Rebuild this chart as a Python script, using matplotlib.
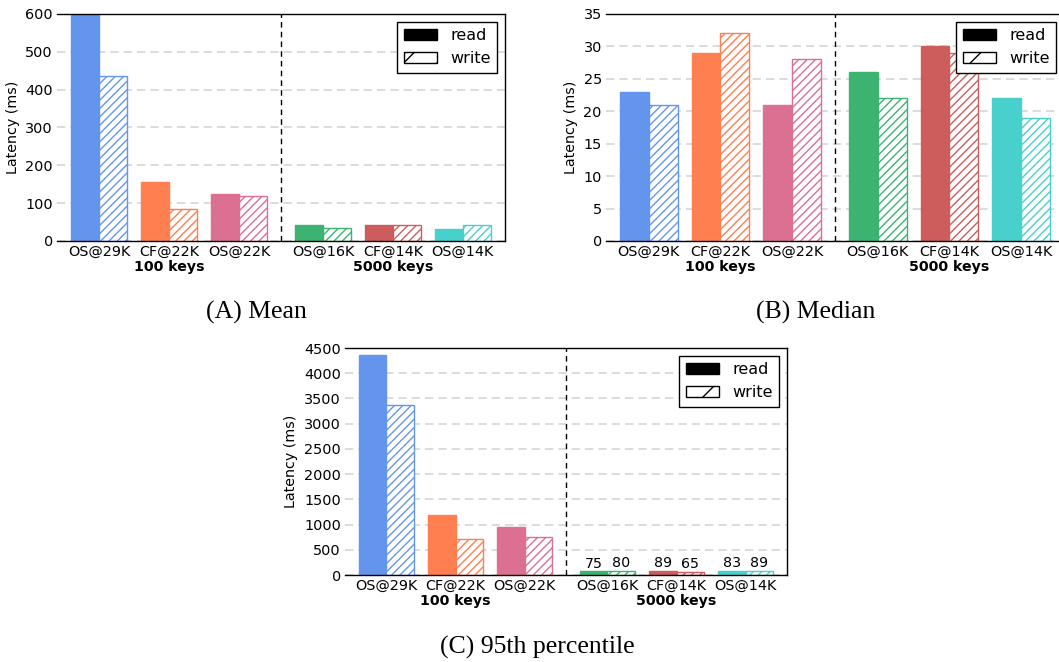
import matplotlib
matplotlib.use("Agg")
import matplotlib.pyplot as plt
from matplotlib.patches import Patch

CONFIGS = ["OS@29K", "CF@22K", "OS@22K", "OS@16K", "CF@14K", "OS@14K"]
GROUPS = ["100 keys", "5000 keys"]
COLORS = ["#6495ED", "#FF7F50", "#DB7093", "#3CB371", "#CD5C5C", "#48D1CC"]

# latency in ms, read / write per config
MEAN_READ = [615, 157, 124, 41, 43, 32]
MEAN_WRITE = [437, 85, 120, 35, 43, 43]
MEDIAN_READ = [23, 29, 21, 26, 30, 22]
MEDIAN_WRITE = [21, 32, 28, 22, 29, 19]
P95_READ = [4355, 1180, 960, 75, 89, 83]
P95_WRITE = [3370, 710, 755, 80, 65, 89]

# x position of each config: second group shifted to leave a gap
XS = [i + (0.2 if i >= 3 else 0) for i in range(len(CONFIGS))]
W = 0.4


def draw(ax, read, write, ymax, step, annotate=False):
    ax.bar([x - W / 2 for x in XS], read, W, color=COLORS, edgecolor=COLORS, linewidth=1)
    ax.bar([x + W / 2 for x in XS], write, W, color="white", edgecolor=COLORS,
           hatch="////", linewidth=1)
    ax.axvline((XS[2] + XS[3]) / 2, color="black", ls=(0, (4, 3)), lw=1)
    ax.set_xlim(XS[0] - 0.6, XS[-1] + 0.6)
    ax.set_ylim(0, ymax)
    ax.set_yticks(range(0, ymax + 1, step))
    ax.set_xticks(XS)
    ax.set_xticklabels(CONFIGS)
    ax.tick_params(length=0, labelsize=10.4, pad=3)
    ax.yaxis.grid(True, color="#d6d6d6", ls=(0, (5, 3)), lw=1.2)
    ax.set_axisbelow(True)
    ax.spines["left"].set_visible(False)
    for s in ["top", "bottom", "right"]:
        ax.spines[s].set_linewidth(1.0)
    ax.set_ylabel("Latency (ms)", fontsize=10.3)
    centers = [sum(XS[:3]) / 3, sum(XS[3:]) / 3]
    for c, g in zip(centers, GROUPS):
        ax.annotate(g, xy=(c, 0), xycoords=("data", "axes fraction"),
                    xytext=(0, -13.5), textcoords="offset points",
                    ha="center", va="top", fontsize=10.2, fontweight="bold")
    if annotate:
        for i in range(3, len(XS)):
            ax.annotate(str(read[i]), (XS[i] - W / 2, read[i]), xytext=(0, 0.5),
                        textcoords="offset points", ha="center", va="bottom", fontsize=10.3)
            ax.annotate(str(write[i]), (XS[i] + W / 2, write[i]), xytext=(0, 0.5),
                        textcoords="offset points", ha="center", va="bottom", fontsize=10.3)
    handles = [Patch(facecolor="black", edgecolor="black", label="read"),
               Patch(facecolor="white", edgecolor="black", hatch="/", label="write")]
    ax.legend(handles=handles, loc="upper right", fontsize=11.5, fancybox=False,
              framealpha=1, edgecolor="black", handlelength=2.1)


fig = plt.figure(figsize=(10.59, 6.62), dpi=100)
ax_a = fig.add_axes([0.0538, 0.636, 0.423, 0.3429])
ax_b = fig.add_axes([0.5722, 0.636, 0.4325, 0.3429])
ax_c = fig.add_axes([0.3258, 0.1314, 0.4174, 0.3429])

draw(ax_a, MEAN_READ, MEAN_WRITE, 600, 100)
draw(ax_b, MEDIAN_READ, MEDIAN_WRITE, 35, 5)
draw(ax_c, P95_READ, P95_WRITE, 4500, 500, annotate=True)

cap = dict(ha="center", va="center", family="Liberation Serif", fontsize=18.5)
fig.text(256 / 1059, 1 - 312 / 662, "(A) Mean", **cap)
fig.text(816 / 1059, 1 - 312 / 662, "(B) Median", **cap)
fig.text(537 / 1059, 1 - 647 / 662, "(C) 95th percentile", **cap)

fig.savefig("out.png", dpi=100)
plt.close(fig)
